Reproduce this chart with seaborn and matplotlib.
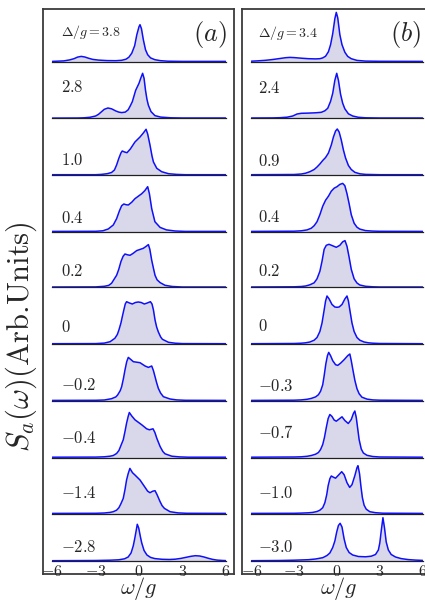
import matplotlib
matplotlib.use('Agg')
import matplotlib.pyplot as plt
import seaborn as sns

# Spectra: (omega/g, height above the row baseline in px)
# panel (a)
A_38 = [(-6, .3), (-5.2, .8), (-4.8, 1.8), (-4.5, 3), (-4.25, 4.6), (-4, 5.3), (-3.75, 4.7), (-3.5, 3.5),
        (-3.2, 2.3), (-2.8, 1.6), (-2.2, 1.1), (-1.6, 1), (-1.2, 1.4), (-0.9, 2.5), (-0.7, 4.5), (-0.5, 8.5),
        (-0.3, 16), (-0.15, 27), (0, 35), (0.07, 37), (0.17, 33), (0.3, 22), (0.45, 12), (0.6, 7),
        (0.8, 3.8), (1.1, 2), (1.5, 1), (2, .5), (3, .3), (6, .3)]
A_28 = [(-6, .2), (-4.2, .3), (-3.8, .5), (-3.4, 1), (-3, 2.3), (-2.8, 4), (-2.6, 6.5), (-2.4, 9),
        (-2.15, 10.3), (-1.9, 9.5), (-1.6, 7.3), (-1.4, 6.2), (-1.2, 5.7), (-0.95, 6.2), (-0.75, 8.5),
        (-0.6, 12.5), (-0.46, 16.7), (-0.23, 28), (0, 35), (0.12, 40), (0.25, 45), (0.35, 40), (0.45, 28),
        (0.55, 19), (0.65, 13), (0.83, 6.7), (1.1, 2.7), (1.5, 1.2), (2.2, .5), (3, .3), (6, .3)]
A_10 = [(-6, .3), (-3, .3), (-2.6, .6), (-2.2, 1.3), (-1.9, 2.5), (-1.7, 5), (-1.55, 10), (-1.4, 16.5),
        (-1.25, 22), (-1.16, 24), (-1, 23), (-0.83, 22.3), (-0.6, 26), (-0.28, 33), (0.07, 38), (0.3, 42),
        (0.49, 45.7), (0.6, 41), (0.76, 30), (0.9, 19), (1, 13), (1.23, 6.7), (1.57, 3.3), (2.04, 1.3),
        (2.6, .6), (3.2, .3), (6, .3)]
A_04 = [(-6, .3), (-3, .4), (-2.5, .9), (-2.13, 2.7), (-1.78, 6.7), (-1.55, 13), (-1.35, 21), (-1.2, 26),
        (-1.05, 27.7), (-0.9, 27), (-0.74, 26.7), (-0.5, 29.5), (-0.28, 33), (0.19, 38), (0.4, 41),
        (0.6, 45), (0.72, 38), (0.88, 23), (1.1, 10), (1.46, 4.3), (1.9, 1.8), (2.5, .7), (3.2, .3), (6, .3)]
A_02 = [(-6, .3), (-3, .4), (-2.4, 1), (-2.1, 1.9), (-1.9, 4), (-1.55, 12), (-1.4, 18), (-1.25, 25.7),
        (-1.1, 31), (-0.97, 33.3), (-0.8, 32.5), (-0.62, 32), (-0.4, 34), (-0.16, 36.7), (0.3, 39),
        (0.5, 41), (0.65, 42.7), (0.75, 38), (0.88, 27), (1, 19), (1.11, 12), (1.25, 7.5), (1.46, 4.7),
        (1.8, 2), (2.3, .8), (3, .3), (6, .3)]
A_00 = [(-6, .3), (-3, .4), (-2.4, .9), (-2, 2.3), (-1.67, 5.7), (-1.5, 9.5), (-1.39, 14), (-1.25, 21),
        (-1.16, 27), (-1.05, 34), (-0.95, 40), (-0.86, 42.3), (-0.66, 41), (-0.46, 40), (-0.25, 41.5),
        (-0.05, 42), (0.15, 41.5), (0.37, 40), (0.57, 41), (0.79, 42.3), (0.9, 40), (1, 34), (1.11, 24),
        (1.22, 17), (1.34, 12), (1.5, 7), (1.62, 4.7), (2.04, 1.7), (2.5, .8), (3, .4), (6, .3)]
A_M02 = [(-6, .3), (-3, .4), (-2.4, .7), (-1.9, 2), (-1.6, 3.8), (-1.48, 5.7), (-1.3, 10), (-1.2, 14),
         (-1.08, 22), (-0.97, 30.7), (-0.85, 39), (-0.74, 43.3), (-0.55, 41), (-0.39, 39), (0.07, 38),
         (0.42, 34.7), (0.65, 33.3), (0.88, 34.7), (1, 30), (1.11, 24), (1.22, 18), (1.34, 12.3),
         (1.5, 7.5), (1.69, 4), (2.15, 1.7), (2.6, .8), (3.2, .4), (6, .3)]
A_M04 = [(-6, .3), (-3, .4), (-2.4, .7), (-2, 1.3), (-1.78, 2), (-1.55, 4), (-1.39, 7), (-1.25, 12),
         (-1.09, 17.7), (-0.97, 26), (-0.86, 34.3), (-0.75, 41), (-0.67, 45), (-0.5, 41.5), (-0.28, 37.7),
         (0.19, 32.7), (0.53, 28.7), (0.72, 27.7), (0.97, 28.7), (1.1, 25), (1.23, 19.3), (1.46, 11),
         (1.65, 6), (1.8, 3.7), (2.27, 1.3), (2.8, .6), (3.4, .3), (6, .3)]
A_M14 = [(-6, .3), (-3, .4), (-2.4, .7), (-2, 1.3), (-1.78, 2), (-1.55, 3.5), (-1.39, 6), (-1.25, 10),
         (-1.09, 15.3), (-0.97, 24), (-0.86, 33.7), (-0.75, 40), (-0.63, 45.3), (-0.45, 41), (-0.28, 38.7),
         (0.07, 33.7), (0.42, 26.3), (0.6, 22.5), (0.76, 21), (0.95, 22.5), (1.11, 23), (1.25, 19),
         (1.46, 12), (1.6, 8), (1.76, 5.3), (2.15, 2), (2.7, .8), (3.3, .4), (6, .3)]
A_M28 = [(-6, .3), (-3, .5), (-2, .8), (-1.4, 1.2), (-1, 2.2), (-0.75, 4), (-0.55, 8), (-0.4, 15),
         (-0.3, 22), (-0.2, 30), (-0.12, 36.7), (-0.02, 33), (0.1, 24), (0.19, 18), (0.35, 10.5), (0.55, 6),
         (0.8, 3.6), (1.1, 2.4), (1.6, 1.7), (2.1, 1.5), (2.5, 1.8), (2.9, 2.6), (3.3, 3.8), (3.6, 4.7),
         (3.9, 5.3), (4.2, 5), (4.5, 4), (4.8, 2.7), (5.1, 1.6), (5.4, .9), (5.8, .5), (6, .4)]

# panel (b)
B_34 = [(-6, .5), (-5.5, .9), (-5, 1.4), (-4.5, 2.2), (-4, 3.2), (-3.6, 4), (-3.3, 4.3), (-3, 4.1),
        (-2.5, 3.5), (-2, 3), (-1.5, 2.8), (-1.2, 3), (-1, 3.8), (-0.8, 5.5), (-0.6, 10), (-0.45, 17),
        (-0.3, 28), (-0.15, 43), (-0.05, 49.3), (0.05, 44), (0.2, 27), (0.35, 17), (0.55, 9.5),
        (0.75, 5.3), (1, 3), (1.4, 1.3), (2, .6), (3, .4), (6, .3)]
B_24 = [(-6, .3), (-4.5, .4), (-4, .6), (-3.5, 1.1), (-3.1, 2.3), (-2.8, 4.3), (-2.5, 5), (-2, 5.2),
        (-1.5, 5.5), (-1.1, 6), (-0.85, 7.5), (-0.65, 10), (-0.45, 17), (-0.3, 25), (-0.15, 38),
        (-0.02, 45), (0.1, 38), (0.25, 24), (0.4, 15), (0.55, 9.5), (0.8, 4.5), (1.1, 2.3), (1.5, 1),
        (2, .5), (3, .3), (6, .3)]
B_09 = [(-6, .3), (-3, .5), (-2.5, 1), (-2.2, 1.8), (-1.9, 3.3), (-1.6, 5.5), (-1.4, 8), (-1.2, 11),
        (-1, 14.5), (-0.8, 17.5), (-0.6, 22), (-0.4, 30), (-0.25, 38), (-0.1, 44), (0.02, 46), (0.15, 43),
        (0.3, 35), (0.45, 25), (0.6, 17), (0.8, 9.5), (1, 5.5), (1.25, 2.7), (1.6, 1.2), (2, .6), (3, .3),
        (6, .3)]
B_04 = [(-6, .3), (-3, .5), (-2.5, .9), (-2.1, 1.8), (-1.8, 3.5), (-1.6, 6), (-1.4, 10), (-1.2, 17),
        (-1, 25.5), (-0.8, 31.5), (-0.6, 35.5), (-0.4, 40.5), (-0.2, 43.5), (0, 45), (0.2, 47.3),
        (0.4, 48.3), (0.55, 46), (0.7, 38), (0.85, 28), (1, 17), (1.2, 8.5), (1.4, 4.5), (1.6, 2.6),
        (2, 1.1), (2.5, .6), (3, .4), (6, .3)]
B_02 = [(-6, .3), (-3, .5), (-2.5, .8), (-2.2, 1.3), (-1.9, 2.5), (-1.6, 4.5), (-1.4, 8.5), (-1.2, 16),
        (-1.05, 26), (-0.9, 38), (-0.75, 42), (-0.56, 43), (-0.3, 41.5), (-0.05, 40), (0.2, 42),
        (0.4, 45.5), (0.56, 46.7), (0.7, 41), (0.85, 30), (1, 18), (1.2, 8.5), (1.4, 4.3), (1.6, 2.3),
        (2, 1), (2.5, .5), (3, .3), (6, .3)]
B_00 = [(-6, .3), (-3, .5), (-2.5, .8), (-2.2, 1.2), (-1.9, 2), (-1.6, 3.8), (-1.4, 6.5), (-1.2, 12.5),
        (-1.05, 21), (-0.9, 34), (-0.8, 43), (-0.7, 48), (-0.55, 45), (-0.35, 39.5), (-0.15, 37),
        (0, 36.7), (0.15, 37), (0.35, 39.5), (0.55, 45), (0.7, 48), (0.8, 43), (0.9, 34), (1.05, 21),
        (1.2, 12.5), (1.4, 6.5), (1.6, 3.8), (1.9, 2), (2.2, 1.2), (2.5, .8), (3, .5), (6, .3)]
B_M03 = [(-6, .3), (-3, .5), (-2.5, .8), (-2.1, 1.4), (-1.8, 2.3), (-1.5, 3.8), (-1.3, 6), (-1.15, 9.5),
         (-1, 16), (-0.9, 25), (-0.78, 37), (-0.67, 45), (-0.58, 48.3), (-0.45, 45), (-0.3, 40),
         (-0.1, 36), (0.05, 35.3), (0.25, 37.5), (0.5, 41), (0.75, 45), (0.9, 46.7), (1, 40), (1.1, 32),
         (1.25, 20.5), (1.4, 12), (1.55, 7), (1.75, 3.5), (2.1, 1.6), (2.5, .8), (3, .5), (6, .3)]
B_M07 = [(-6, .3), (-3, .5), (-2.5, .7), (-2.1, 1.2), (-1.8, 2), (-1.5, 3.3), (-1.3, 5), (-1.15, 8),
         (-1, 13), (-0.88, 20), (-0.75, 30), (-0.62, 39), (-0.5, 43), (-0.35, 41), (-0.2, 37.5),
         (-0.05, 36.3), (0.15, 38.5), (0.35, 40.7), (0.55, 37), (0.79, 34), (1, 38), (1.15, 44),
         (1.25, 46.5), (1.35, 40), (1.45, 29), (1.55, 18), (1.7, 8.5), (1.85, 4.5), (2.1, 2.2), (2.5, 1),
         (3, .5), (6, .3)]
B_M10 = [(-6, .3), (-3, .4), (-2.5, .6), (-2, .9), (-1.7, 1.3), (-1.4, 2.2), (-1.2, 3.5), (-1, 6),
         (-0.85, 11), (-0.72, 19), (-0.62, 28), (-0.5, 35), (-0.4, 37.7), (-0.25, 36.5), (-0.1, 35.5),
         (0.1, 38.5), (0.33, 42), (0.5, 39), (0.7, 31), (0.89, 26.3), (1.05, 29), (1.25, 38), (1.4, 46),
         (1.47, 48), (1.58, 40), (1.68, 27), (1.78, 16), (1.9, 8.5), (2.05, 4.5), (2.3, 2), (2.7, 1),
         (3.2, .5), (6, .3)]
B_M30 = [(-6, .3), (-4, .5), (-3, .8), (-2, 1.3), (-1.5, 2), (-1, 3.3), (-0.7, 5.5), (-0.5, 8),
         (-0.3, 13.5), (-0.15, 20), (-0.02, 29), (0.1, 35.5), (0.22, 37.7), (0.35, 34), (0.5, 22),
         (0.65, 13.5), (0.85, 8.5), (1.1, 6), (1.5, 4.5), (2, 4.2), (2.4, 4.8), (2.7, 6.5), (2.9, 11),
         (3, 18), (3.1, 30), (3.22, 43.3), (3.33, 33), (3.45, 19), (3.6, 11), (3.8, 6.5), (4.1, 4),
         (4.5, 2.4), (5, 1.4), (5.5, .9), (6, .6)]

SPEC_A = [A_38, A_28, A_10, A_04, A_02, A_00, A_M02, A_M04, A_M14, A_M28]
SPEC_B = [B_34, B_24, B_09, B_04, B_02, B_00, B_M03, B_M07, B_M10, B_M30]
DELTA_A = ['3.8', '2.8', '1.0', '0.4', '0.2', '0', '-0.2', '-0.4', '-1.4', '-2.8']
DELTA_B = ['3.4', '2.4', '0.9', '0.4', '0.2', '0', '-0.3', '-0.7', '-1.0', '-3.0']
XTICKS = [-6, -3, 0, 3, 6]

# layout (pixels, measured on the reference)
FIG_W, FIG_H = 425, 602
BASELINES = [61.7, 118.3, 175.0, 231.7, 287.3, 344.0, 400.7, 457.5, 513.7, 561.0]
ROW_H = 55
LINE_COLOR = '#1010f8'
FILL_COLOR = '#d8d8ea'
FRAME_COLOR = '#3c3c3c'


def px_box(left, top, right, bottom):
    return [left / FIG_W, 1 - bottom / FIG_H, (right - left) / FIG_W, (bottom - top) / FIG_H]


def draw_panel(fig, spectra, deltas, label_y, label_x, frame, x_span, tag, tag_right, xlabel_x):
    # outer box around the stack
    box = fig.add_axes(px_box(*frame), zorder=0)
    box.set_xticks([])
    box.set_yticks([])
    box.patch.set_alpha(0)
    for sp in box.spines.values():
        sp.set_color(FRAME_COLOR)
        sp.set_linewidth(1.3)

    n = len(spectra)
    for i, (spec, delta) in enumerate(zip(spectra, deltas)):
        base = BASELINES[i]
        ax = fig.add_axes(px_box(x_span[0], base - ROW_H, x_span[1], base), zorder=1)
        ax.patch.set_alpha(0)
        xs = [p[0] for p in spec]
        ys = [p[1] for p in spec]
        ax.fill_between(xs, 0, ys, color=FILL_COLOR, lw=0, zorder=1)
        sns.lineplot(x=xs, y=ys, ax=ax, color=LINE_COLOR, linewidth=1.1, sort=False,
                     estimator=None, zorder=3)
        ax.set_xlim(-6, 6)
        ax.set_ylim(0, ROW_H)
        ax.set_yticks([])
        ax.set_xticks(XTICKS)
        ax.set_xlabel('')
        ax.set_ylabel('')
        for side in ['left', 'right', 'top']:
            ax.spines[side].set_visible(False)
        ax.spines['bottom'].set_color('#202020')
        ax.spines['bottom'].set_linewidth(0.9)
        ax.tick_params(axis='x', direction='inout', length=3.5, width=0.6, color='#555555', pad=0)
        if i == n - 1:
            ax.set_xticklabels([f'${t}$' for t in XTICKS], fontsize=11.5)
        else:
            ax.tick_params(labelbottom=False)

        if i == 0:
            text = r'$\Delta/g = ' + delta + '$'
            size = 10
        else:
            text = '$' + delta + '$'
            size = 12
        ax.text(label_x, label_y[i], text, ha='left', va='center', fontsize=size)

    fig.text(tag_right / FIG_W, 1 - 35 / FIG_H, tag, ha='right', va='center', fontsize=19)
    fig.text(xlabel_x / FIG_W, 1 - 589 / FIG_H, r'$\omega/g$', ha='center', va='center', fontsize=16)


def main():
    sns.set_theme(style='white')
    plt.rcParams['mathtext.fontset'] = 'cm'
    plt.rcParams['font.family'] = ['DejaVu Serif']

    fig = plt.figure(figsize=(FIG_W / 100, FIG_H / 100), dpi=100, facecolor='white')

    draw_panel(fig, SPEC_A, DELTA_A,
               [30, 31, 15, 13.5, 15.6, 17, 15.7, 18.7, 20.7, 13.3], -5.4,
               (43, 9, 233.5, 574), (52.3, 225.7), r'$(a)$', 227, 138.5)
    draw_panel(fig, SPEC_B, DELTA_B,
               [28.7, 29.5, 14, 13.7, 15.6, 17.3, 14, 24.4, 20.4, 14], -5.54,
               (242, 9, 432, 574), (251.4, 422.6), r'$(b)$', 421, 339)

    fig.text(21 / FIG_W, 1 - 337 / FIG_H, r'$S_a(\omega)(\mathrm{Arb.\!Units})$', rotation=90,
             ha='center', va='center', fontsize=22)

    fig.savefig('out.png', dpi=100, facecolor='white')
    plt.close(fig)


if __name__ == '__main__':
    main()
